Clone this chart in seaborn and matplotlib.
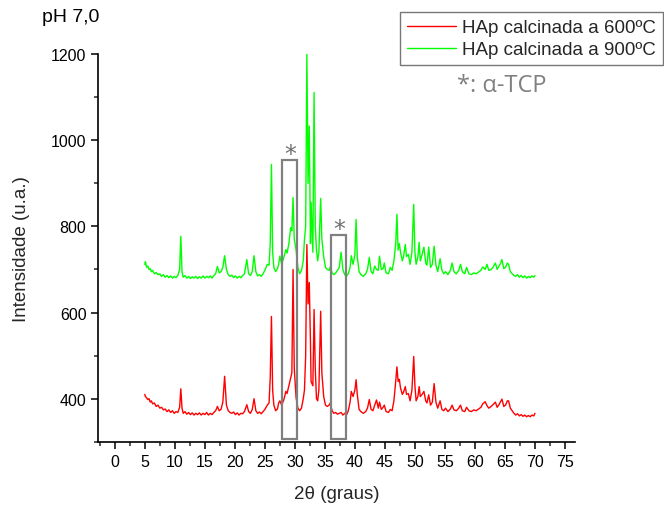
import matplotlib
matplotlib.use("Agg")
import matplotlib.pyplot as plt
from matplotlib.patches import Rectangle
from matplotlib.ticker import MultipleLocator
import seaborn as sns
import pandas as pd

# 2theta grid (degrees)
two_theta = [5.0, 5.1, 5.3, 5.5, 5.7, 5.9, 6.1, 6.3, 6.6, 6.9, 7.2, 7.5, 7.8, 8.1, 8.4, 8.7,
             9.0, 9.3, 9.6, 9.9, 10.2, 10.5, 10.8, 11.0, 11.2, 11.4, 11.7, 12.0, 12.3, 12.6,
             12.9, 13.2, 13.5, 13.8, 14.1, 14.4, 14.7, 15.0, 15.3, 15.6, 15.9, 16.2, 16.5,
             16.8, 17.1, 17.4, 17.7, 18.0, 18.3, 18.6, 18.9, 19.2, 19.5, 19.8, 20.1, 20.4,
             20.7, 21.0, 21.3, 21.6, 22.0, 22.3, 22.6, 22.9, 23.2, 23.5, 23.8, 24.1, 24.4,
             24.7, 25.0, 25.4, 25.7, 25.9, 26.1, 26.3, 26.5, 26.8, 27.1, 27.3, 27.5, 27.8,
             28.1, 28.3, 28.5, 28.7, 29.0, 29.3, 29.5, 29.7, 29.9, 30.2, 30.5, 30.8, 31.1,
             31.4, 31.6, 31.8, 32.0, 32.2, 32.4, 32.6, 32.7, 33.0, 33.2, 33.4, 33.6, 33.8,
             34.0, 34.3, 34.5, 34.8, 35.1, 35.4, 35.7, 35.9, 36.2, 36.5, 36.8, 37.1, 37.4,
             37.7, 38.0, 38.3, 38.6, 38.9, 39.2, 39.4, 39.7, 40.0, 40.2, 40.4, 40.7, 41.0,
             41.4, 41.8, 42.1, 42.4, 42.7, 43.0, 43.3, 43.6, 43.9, 44.1, 44.4, 44.7, 44.9,
             45.2, 45.6, 45.9, 46.2, 46.5, 46.8, 47.0, 47.2, 47.4, 47.6, 47.9, 48.1, 48.4,
             48.6, 48.9, 49.2, 49.5, 49.8, 50.0, 50.2, 50.5, 50.7, 50.9, 51.2, 51.5, 51.8,
             52.0, 52.3, 52.6, 52.9, 53.2, 53.5, 53.8, 54.2, 54.5, 54.8, 55.1, 55.5, 55.9,
             56.2, 56.5, 56.9, 57.3, 57.6, 57.9, 58.3, 58.6, 59.0, 59.4, 59.8, 60.2, 60.6,
             61.0, 61.3, 61.7, 62.0, 62.3, 62.7, 63.0, 63.4, 63.7, 64.0, 64.3, 64.5, 64.8,
             65.1, 65.4, 65.6, 65.9, 66.2, 66.5, 66.8, 67.1, 67.4, 67.7, 68.0, 68.3, 68.6,
             68.9, 69.2, 69.5, 69.8, 70.0]

# HAp calcined at 900 C (green)
int_900 = [712, 718, 705, 708, 700, 702, 695, 698, 690, 693, 688, 690, 684, 688, 682, 686,
           681, 685, 680, 684, 681, 686, 700, 777, 695, 682, 686, 680, 684, 679,
           683, 680, 684, 679, 683, 680, 685, 680, 684, 681, 685, 680, 686,
           690, 707, 692, 695, 705, 732, 700, 688, 684, 687, 681, 685, 680,
           684, 681, 686, 690, 723, 690, 686, 695, 732, 695, 685, 688, 684,
           690, 698, 712, 710, 760, 944, 740, 705, 695, 702, 712, 731, 712,
           725, 735, 746, 738, 760, 797, 790, 867, 770, 746, 705, 690, 698,
           720, 770, 800, 1200, 900, 1033, 760, 856, 740, 1111, 800, 745, 720,
           740, 865, 770, 730, 705, 700, 698, 706, 692, 688, 692, 698, 705,
           740, 700, 688, 684, 690, 705, 732, 712, 735, 816, 730, 695, 688,
           684, 690, 700, 728, 695, 690, 708, 700, 698, 731, 700, 702, 715,
           692, 690, 705, 698, 720, 760, 828, 745, 760, 740, 720, 730, 758,
           730, 735, 712, 740, 851, 740, 712, 730, 763, 720, 735, 752, 715,
           710, 752, 705, 712, 754, 710, 695, 725, 698, 690, 695, 688, 698,
           715, 695, 690, 698, 712, 695, 690, 705, 690, 688, 692, 690, 694,
           698, 706, 700, 712, 698, 700, 705, 715, 700, 708, 715, 723, 702,
           705, 715, 712, 695, 690, 686, 684, 688, 682, 686, 681, 685, 680,
           684, 681, 685, 682, 686]

# HAp calcined at 600 C (red)
int_600 = [410, 405, 402, 398, 400, 392, 395, 388, 390, 382, 385, 378, 380, 374, 376, 370,
           374, 368, 372, 366, 370, 368, 380, 423, 378, 366, 370, 364, 368, 363,
           367, 362, 366, 363, 367, 362, 366, 363, 368, 362, 366, 363, 368,
           372, 382, 372, 375, 392, 452, 385, 372, 368, 366, 369, 363, 367,
           362, 366, 365, 370, 386, 370, 366, 375, 400, 372, 366, 369, 365,
           370, 375, 385, 390, 450, 591, 420, 385, 372, 376, 390, 395, 385,
           395, 405, 417, 412, 430, 449, 460, 700, 470, 403, 378, 372, 378,
           400, 420, 500, 758, 620, 670, 530, 440, 430, 607, 470, 400, 395,
           420, 603, 460, 405, 385, 382, 385, 390, 372, 366, 368, 364, 366,
           368, 362, 366, 362, 372, 392, 417, 405, 420, 444, 410, 375, 370,
           366, 370, 378, 398, 375, 372, 385, 397, 378, 392, 375, 380, 385,
           370, 368, 375, 372, 395, 440, 474, 440, 445, 425, 410, 415, 428,
           410, 412, 395, 420, 498, 430, 395, 405, 428, 405, 410, 417, 395,
           390, 409, 385, 392, 435, 392, 378, 395, 375, 372, 378, 370, 376,
           385, 374, 372, 378, 385, 372, 370, 380, 372, 370, 374, 372, 376,
           380, 388, 393, 384, 378, 382, 386, 392, 380, 386, 394, 399, 382,
           385, 395, 395, 378, 372, 366, 362, 365, 360, 363, 359, 362, 358,
           361, 358, 362, 360, 366]

labels = ["HAp calcinada a 600ºC", "HAp calcinada a 900ºC"]
x_ticks = [0, 5, 10, 15, 20, 25, 30, 35, 40, 45, 50, 55, 60, 65, 70, 75]
y_ticks = [400, 600, 800, 1000, 1200]

# alpha-TCP marked regions: (start, end, top)
tcp_start = [27.9, 36.1]
tcp_end = [30.4, 38.6]
tcp_top = [954, 780]

df = pd.concat([
    pd.DataFrame({"2theta": two_theta, "I": int_600, "amostra": labels[0]}),
    pd.DataFrame({"2theta": two_theta, "I": int_900, "amostra": labels[1]}),
])

sns.set_style("ticks")
plt.rcParams["font.family"] = ["Liberation Sans", "DejaVu Sans"]

fig = plt.figure(figsize=(6.64, 5.06), dpi=100)
ax = fig.add_axes([0.148, 0.125, 0.7187, 0.766])

sns.lineplot(data=df, x="2theta", y="I", hue="amostra",
             palette={labels[0]: "#ff0000", labels[1]: "#00ff00"},
             estimator=None, sort=False, linewidth=1.0, ax=ax)

ax.set_xlim(-2.75, 76.75)
ax.set_ylim(300, 1200)
ax.set_xticks(x_ticks)
ax.set_yticks(y_ticks)
ax.xaxis.set_minor_locator(MultipleLocator(2.5))
ax.yaxis.set_minor_locator(MultipleLocator(100))
ax.tick_params(which="major", direction="out", length=5, width=1.1,
               labelsize=11.5, colors="black")
ax.tick_params(which="minor", direction="out", length=3, width=1.1)
for s in ["top", "right"]:
    ax.spines[s].set_visible(False)
for s in ["left", "bottom"]:
    ax.spines[s].set_linewidth(1.2)
    ax.spines[s].set_color("black")

ax.set_xlabel("2θ (graus)", fontsize=13.5, labelpad=12)
ax.set_ylabel("Intensidade (u.a.)", fontsize=13.5, labelpad=15)

for xs, xe, yt in zip(tcp_start, tcp_end, tcp_top):
    ax.add_patch(Rectangle((xs, 307), xe - xs, yt - 307, fill=False,
                           edgecolor="#808080", linewidth=1.6, zorder=5))
    ax.text((xs + xe) / 2, yt - 14, "*", ha="center", va="bottom",
            fontsize=17, color="#707070", family=["DejaVu Sans"])

leg = ax.legend(loc="upper left", bbox_to_anchor=(400 / 664, 1 - 13 / 506),
                bbox_transform=fig.transFigure, frameon=True, fancybox=False,
                fontsize=13.5, handlelength=2.6, handletextpad=0.3,
                borderpad=0.38, labelspacing=0.25, borderaxespad=0)
leg.get_frame().set_edgecolor("#555555")
leg.get_frame().set_linewidth(1.0)
for line in leg.get_lines():
    line.set_linewidth(1.0)

fig.text(457 / 664, 1 - 86 / 506, "*: α-TCP", fontsize=17, color="#808080",
         ha="left", va="center", family=["Open Sans", "DejaVu Sans"])
fig.text(42 / 664, 1 - 18 / 506, "pH 7,0", fontsize=14, color="black",
         ha="left", va="center")

fig.savefig("out.png", dpi=100)
